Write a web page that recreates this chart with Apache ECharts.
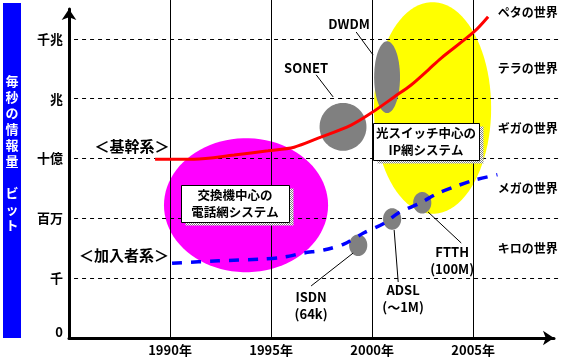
<!DOCTYPE html>
<html><head><meta charset="utf-8">
<script src="https://cdn.jsdelivr.net/npm/echarts@6/dist/echarts.min.js"></script>
<style>html,body{margin:0;padding:0;background:#fff}#c{width:562px;height:357px}</style>
</head><body><div id="c"></div>
<script>
// ---- data ----
const years = [1990, 1995, 2000, 2005];
const yearLabels = ['1990年', '1995年', '2000年', '2005年'];
const levelValues = [0, 1, 2, 3, 4, 5];
const levelLabels = ['0', '千', '百万', '十億', '兆', '千兆'];
const worldNames = ['キロの世界', 'メガの世界', 'ギガの世界', 'テラの世界', 'ペタの世界'];
const worldLevels = [1.5, 2.5, 3.5, 4.5, 5.45];
const worldYear = 2007.7;

const backboneYears  = [1989.26, 1991.19, 1993.17, 1994.85, 1996.14, 1997.33, 1998.96, 1999.95, 2001.09, 2001.93, 2002.77, 2003.42, 2005.05, 2005.74];
const backboneValues = [2.99, 2.99, 3.06, 3.13, 3.19, 3.34, 3.56, 3.76, 4.03, 4.23, 4.48, 4.68, 5.12, 5.37];
const accessYears  = [1990.1, 1992.4, 1994.5, 1995.6, 1996.6, 1997.6, 1998.6, 1999.6, 2000.6, 2001.3, 2002.4, 2003.2, 2004.1, 2005.05, 2006.2];
const accessValues = [1.25, 1.29, 1.32, 1.35, 1.42, 1.47, 1.57, 1.76, 1.92, 2.09, 2.26, 2.41, 2.53, 2.64, 2.73];

// regions: [center year, center level, half span (years), half span (levels)]
const systemRegions = [[1993.76, 2.22, 4.06, 1.12], [2002.99, 3.845, 2.90, 1.77]];
const techNames = ['SONET', 'DWDM', 'ISDN', 'ADSL', 'FTTH'];
const techRegions = [[1998.56, 3.53, 1.16, 0.40], [2000.74, 4.36, 0.64, 0.60], [1999.31, 1.55, 0.45, 0.18], [2000.99, 1.99, 0.45, 0.18], [2002.48, 2.26, 0.45, 0.18]];
const techLabels = ['SONET', 'DWDM', 'ISDN\n(64k)', 'ADSL\n(～1M)', 'FTTH\n(100M)'];
const techLabelPos = [[1996.73, 4.51], [1998.86, 5.25], [1996.98, 0.543], [2001.53, 0.66], [2003.96, 1.30]];
const leaderLines = [
  [[1997.23, 4.40], [1998.07, 4.03]],
  [[1999.21, 5.115], [2000.05, 4.73]],
  [[1996.98, 0.87], [1999.06, 1.42]],
  [[2001.09, 1.805], [2001.29, 0.936]],
  [[2002.77, 2.106], [2004.41, 1.588]]
];
const systemLabels = ['＜基幹系＞', '＜加入者系＞'];
const systemLabelPos = [[1988.12, 3.21], [1987.72, 1.39]];
const boxTexts = ['交換機中心の\n電話網システム', '光スイッチ中心の\nIP網システム'];
const boxPos = [[1993.22, 2.25], [2002.67, 3.285]];
const gridLevels = [1, 2, 3, 4, 5];
const gridStartYear = 1985.25, gridEndYear = 2009.35;
const verticalTop = 5.65;

// ---- styles ----
const FONT = '"Noto Sans CJK JP", "Noto Sans", sans-serif';
const regionColors = ['#ff00ff', '#ffff00'];

const stippleCanvas = document.createElement('canvas');
stippleCanvas.width = 2; stippleCanvas.height = 2;
(function () {
  const ctx = stippleCanvas.getContext('2d');
  ctx.fillStyle = '#ffffff'; ctx.fillRect(0, 0, 2, 2);
  ctx.fillStyle = '#808080'; ctx.fillRect(0, 0, 1, 1); ctx.fillRect(1, 1, 1, 1);
})();
const stipple = { image: stippleCanvas, repeat: 'repeat' };

function ellipseRender(colorFn) {
  return function (params, api) {
    const c = api.coord([api.value(0), api.value(1)]);
    const s = api.size([api.value(2), api.value(3)]);
    const pts = [];
    for (let i = 0; i < 90; i++) {
      const a = i / 90 * Math.PI * 2;
      pts.push([c[0] + s[0] * Math.cos(a), c[1] + s[1] * Math.sin(a)]);
    }
    return { type: 'polygon', shape: { points: pts }, style: { fill: colorFn(params.dataIndex) } };
  };
}

function textRender(texts, opts) {
  return function (params, api) {
    const p = api.coord([api.value(0), api.value(1)]);
    return {
      type: 'text', x: p[0], y: p[1],
      style: Object.assign({
        text: texts[params.dataIndex], fill: '#000', fontFamily: FONT, fontWeight: 'bold',
        align: 'center', verticalAlign: 'middle'
      }, opts)
    };
  };
}

const chart = echarts.init(document.getElementById('c'), null, { renderer: 'canvas' });
chart.setOption({
  animation: false,
  backgroundColor: '#fff',
  grid: { left: 69, right: 8, top: 9, bottom: 19, containLabel: false },
  xAxis: {
    type: 'value', min: 1985, max: 2009, interval: 5,
    axisLine: { show: true, symbol: ['none', 'arrow'], symbolSize: [11, 11], lineStyle: { color: '#000', width: 3 } },
    axisTick: { show: false }, splitLine: { show: false },
    axisLabel: {
      margin: 6, color: '#000', fontFamily: FONT, fontWeight: 'bold', fontSize: 13,
      formatter: v => { const i = years.indexOf(v); return i >= 0 ? yearLabels[i] : ''; }
    }
  },
  yAxis: {
    type: 'value', min: 0, max: 5.5, interval: 1,
    axisLine: { show: true, symbol: ['none', 'arrow'], symbolSize: [11, 11], lineStyle: { color: '#000', width: 3 } },
    axisTick: { show: false }, splitLine: { show: false },
    axisLabel: {
      margin: 6, color: '#000', fontFamily: FONT, fontWeight: 'bold', fontSize: 13,
      formatter: v => { const i = levelValues.indexOf(v); if (i < 0) return ''; return i === 0 ? '{z|' + levelLabels[i] + '}' : levelLabels[i]; },
      rich: { z: { padding: [0, 0, 12, 0], fontFamily: FONT, fontWeight: 'bold', fontSize: 13, color: '#000' } }
    }
  },
  graphic: [
    { type: 'rect', left: 3, top: 3, shape: { width: 18, height: 335 }, style: { fill: '#0000ff' }, z: 1 },
    { type: 'text', x: 12, y: 73, z: 2, style: { text: '毎\n秒\nの\n情\n報\n量\n\nビ\nッ\nト', fill: '#fff', fontFamily: FONT, fontWeight: 'bold', fontSize: 13, lineHeight: 16, align: 'center', verticalAlign: 'top' } }
  ],
  series: [
    { type: 'custom', name: 'systems', z: 1, clip: false, renderItem: ellipseRender(i => regionColors[i]), data: systemRegions },
    { type: 'lines', name: 'vgrid', coordinateSystem: 'cartesian2d', z: 2, clip: false, silent: true,
      lineStyle: { color: '#000', width: 1, type: 'solid', opacity: 1 },
      data: years.map(y => ({ coords: [[y, 0], [y, verticalTop]] })) },
    { type: 'lines', name: 'hgrid', coordinateSystem: 'cartesian2d', z: 2, clip: false, silent: true,
      lineStyle: { color: '#000', width: 1, type: [4, 4], opacity: 1 },
      data: gridLevels.map(l => ({ coords: [[gridStartYear, l], [gridEndYear, l]] })) },
    { type: 'custom', name: 'tech', z: 3, clip: false, renderItem: ellipseRender(() => '#808080'), data: techRegions },
    { type: 'lines', name: 'leaders', coordinateSystem: 'cartesian2d', z: 3, clip: false, silent: true,
      lineStyle: { color: '#000', width: 1, opacity: 1 },
      data: leaderLines.map(c => ({ coords: c })) },
    { type: 'line', name: '基幹系', z: 4, smooth: 0.3, showSymbol: false, symbol: 'none',
      lineStyle: { color: '#ff0000', width: 3 },
      data: backboneYears.map((y, i) => [y, backboneValues[i]]) },
    { type: 'line', name: '加入者系', z: 4, smooth: 0.3, showSymbol: false, symbol: 'none',
      lineStyle: { color: '#0000ff', width: 3.5, type: [10, 9] },
      data: accessYears.map((y, i) => [y, accessValues[i]]) },
    { type: 'custom', name: 'boxes', z: 5, clip: false, data: boxPos,
      renderItem: function (params, api) {
        const p = api.coord([api.value(0), api.value(1)]);
        const w = params.dataIndex === 0 ? 108 : 106, h = 37;
        const x0 = Math.round(p[0] - w / 2) + 0.5, y0 = Math.round(p[1] - h / 2) + 0.5;
        return { type: 'group', children: [
          { type: 'rect', shape: { x: x0 + 4, y: y0 + 3, width: w, height: h }, style: { fill: stipple } },
          { type: 'rect', shape: { x: x0, y: y0, width: w, height: h }, style: { fill: '#fff', stroke: '#000', lineWidth: 1 } },
          { type: 'text', x: p[0], y: p[1], style: { text: boxTexts[params.dataIndex], fill: '#000', fontFamily: FONT, fontWeight: 'bold', fontSize: 12.5, lineHeight: 17, align: 'center', verticalAlign: 'middle' } }
        ] };
      } },
    { type: 'custom', name: 'techLabels', z: 6, clip: false, data: techLabelPos,
      renderItem: textRender(techLabels, { fontSize: 13, lineHeight: 17 }) },
    { type: 'custom', name: 'systemLabels', z: 6, clip: false, data: systemLabelPos,
      renderItem: textRender(systemLabels, { fontSize: 15 }) },
    { type: 'custom', name: 'worlds', z: 6, clip: false, data: worldLevels.map(l => [worldYear, l]),
      renderItem: textRender(worldNames, { fontSize: 12 }) }
  ]
});
</script></body></html>
